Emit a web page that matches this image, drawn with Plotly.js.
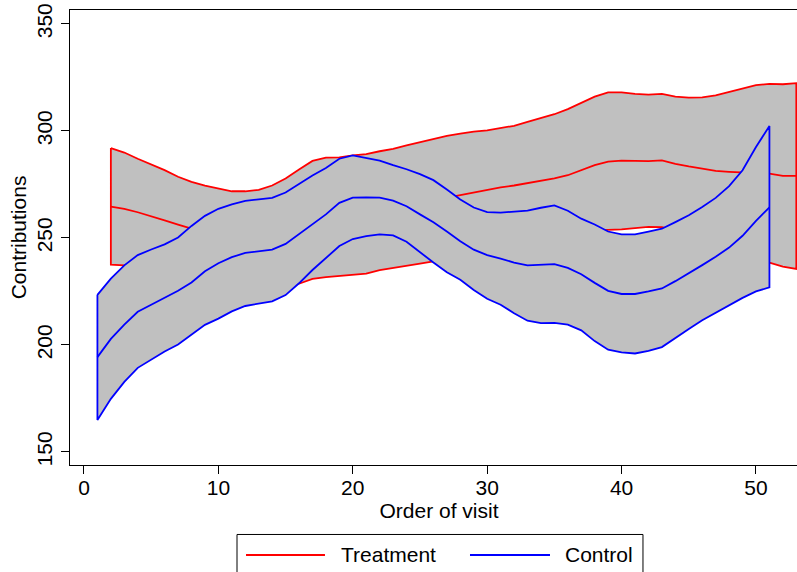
<!DOCTYPE html>
<html>
<head>
<meta charset="utf-8">
<script src="https://cdn.plot.ly/plotly-3.0.1.min.js"></script>
<style>
  html, body { margin: 0; padding: 0; background: #fff; overflow: hidden; }
  #chart { width: 808px; height: 572px; }
</style>
</head>
<body>
<div id="chart"></div>
<script>
// Order of visit
const treatX = [2,3,4,5,6,7,8,9,10,11,12,13,14,15,16,17,18,19,20,21,22,23,24,25,26,27,
  28,29,30,31,32,33,34,35,36,37,38,39,40,41,42,43,44,45,46,47,48,49,50,51,52,53];
const ctrlX = [1,2,3,4,5,6,7,8,9,10,11,12,13,14,15,16,17,18,19,20,21,22,23,24,25,26,
  27,28,29,30,31,32,33,34,35,36,37,38,39,40,41,42,43,44,45,46,47,48,49,50,51];

// Treatment: upper bound, mean, lower bound
const treatUpper = [292.0,289.9,287.0,284.5,281.7,278.6,276.2,274.4,273.0,271.8,271.8,272.5,
  274.5,277.8,282.0,286.0,287.5,287.6,288.6,289.2,290.5,291.6,293.2,294.7,296.2,297.7,
  298.7,299.7,300.3,301.2,302.4,304.2,306.0,307.8,310.2,313.0,316.0,318.0,318.0,317.3,
  317.0,317.3,316.0,315.6,315.7,316.6,318.2,319.9,321.4,322.0,321.8,322.3];
const treatMean = [264.6,263.6,262.0,260.2,258.2,256.2,254.3,253.0,251.8,250.8,250.4,250.5,
  251.3,252.8,255.3,258.5,259.6,259.9,260.7,261.3,262.8,263.8,265.1,266.4,267.6,269.1,
  270.3,271.4,272.6,273.6,274.5,275.6,276.7,277.8,279.3,281.5,284.0,285.7,286.1,286.0,
  285.9,286.2,284.6,283.4,282.2,281.3,280.9,280.6,280.3,280.0,279.0,279.0];
const treatLower = [237.5,237.3,236.8,236.0,234.8,233.6,232.4,231.5,230.6,229.8,229.0,228.4,
  228.0,227.8,228.6,230.9,231.7,232.2,232.8,233.3,235.0,236.0,237.0,238.0,239.0,240.5,
  242.0,243.5,244.7,245.5,246.3,247.0,248.0,249.0,250.5,252.0,253.5,253.8,254.0,254.5,
  255.2,255.0,253.5,251.5,249.0,246.5,244.0,241.5,239.5,238.5,236.6,235.5];

// Control: upper bound, mean, lower bound
const ctrlUpper = [223.4,231.0,237.2,242.0,244.6,247.0,250.2,255.6,260.3,263.6,265.7,267.3,
  268.0,268.7,271.2,275.3,279.2,282.7,287.0,288.6,287.3,286.1,284.0,282.1,279.8,277.0,
  272.6,268.0,264.2,262.1,261.8,262.2,262.8,264.1,265.2,262.7,259.0,256.3,253.0,251.7,
  251.7,253.0,254.3,257.4,260.6,264.4,268.7,274.2,281.6,292.5,302.3];
const ctrlMean = [194.3,202.8,209.5,215.5,218.8,222.0,225.3,229.2,234.4,238.2,241.0,243.0,
  243.6,244.5,247.2,251.8,256.2,261.0,266.4,268.8,268.9,268.8,267.4,264.8,261.0,257.3,
  253.0,248.5,244.5,242.0,240.3,238.5,237.2,237.4,237.8,236.0,233.0,229.0,225.3,223.8,
  223.8,225.0,226.4,229.8,233.4,237.3,241.2,245.5,251.0,258.0,264.3];
const ctrlLower = [164.9,174.8,182.7,189.3,193.0,196.9,200.2,205.0,209.4,212.3,215.7,218.2,
  219.4,220.4,223.3,228.8,235.0,240.7,246.2,249.5,250.8,251.7,251.2,248.2,243.4,238.5,
  234.0,230.5,225.7,221.6,218.8,214.8,211.3,210.2,210.3,209.5,206.8,201.8,197.8,196.5,
  196.0,197.2,199.0,203.2,207.5,211.5,215.0,218.5,222.0,225.0,226.9];

const seriesNames = ['Treatment', 'Control'];
const yTicks = [150, 200, 250, 300, 350];
const xTicks = [0, 10, 20, 30, 40, 50];

function band(xs, up, lo) {
  const bx = xs.concat(xs.slice().reverse(), [xs[0]]);
  const by = up.concat(lo.slice().reverse(), [up[0]]);
  return { bx, by };
}

const tb = band(treatX, treatUpper, treatLower);
const cb = band(ctrlX, ctrlUpper, ctrlLower);
const RED = '#ff0000', BLUE = '#0000ff', GRAY = '#c0c0c0';
const LW = 1.8;

const traces = [
  { x: tb.bx, y: tb.by, type: 'scatter', mode: 'lines', fill: 'toself', fillcolor: GRAY,
    line: { color: RED, width: LW }, showlegend: false, hoverinfo: 'skip' },
  { x: treatX, y: treatMean, type: 'scatter', mode: 'lines', name: seriesNames[0],
    line: { color: RED, width: LW }, showlegend: false },
  { x: cb.bx, y: cb.by, type: 'scatter', mode: 'lines', fill: 'toself', fillcolor: GRAY,
    line: { color: BLUE, width: LW }, showlegend: false, hoverinfo: 'skip' },
  { x: ctrlX, y: ctrlMean, type: 'scatter', mode: 'lines', name: seriesNames[1],
    line: { color: BLUE, width: LW }, showlegend: false }
];

const FONT = 'Liberation Sans, Arial, Helvetica, sans-serif';
const FS = 21;

// Legend box (drawn below the plot, in paper coordinates)
const legendShapes = [
  { type: 'rect', xref: 'paper', yref: 'paper', x0: 0.2263, x1: 0.7764, y0: -0.26, y1: -0.1527,
    line: { color: '#000', width: 1 }, fillcolor: 'rgba(0,0,0,0)' },
  { type: 'line', xref: 'paper', yref: 'paper', x0: 0.2385, x1: 0.3455, y0: -0.1978, y1: -0.1978,
    line: { color: RED, width: LW } },
  { type: 'line', xref: 'paper', yref: 'paper', x0: 0.5420, x1: 0.6504, y0: -0.1978, y1: -0.1978,
    line: { color: BLUE, width: LW } }
];
const legendLabels = [
  { text: seriesNames[0], xref: 'paper', yref: 'paper', x: 0.3645, y: -0.1978,
    xanchor: 'left', yanchor: 'middle', showarrow: false, font: { size: FS, family: FONT, color: '#000' } },
  { text: seriesNames[1], xref: 'paper', yref: 'paper', x: 0.6680, y: -0.1978,
    xanchor: 'left', yanchor: 'middle', showarrow: false, font: { size: FS, family: FONT, color: '#000' } }
];

const layout = {
  width: 808, height: 572,
  margin: { l: 70, r: 0, t: 10, b: 107 },
  paper_bgcolor: '#ffffff', plot_bgcolor: '#ffffff',
  font: { family: FONT, size: FS, color: '#000' },
  showlegend: false,
  xaxis: {
    range: [-1.04, 53.87], tickvals: xTicks, ticktext: xTicks.map(String),
    ticks: 'outside', ticklen: 8, tickwidth: 1, tickcolor: '#000',
    showline: true, linecolor: '#000', linewidth: 1.2, mirror: true,
    showgrid: false, zeroline: false, ticklabelstandoff: -4,
    tickfont: { size: FS, family: FONT },
    title: { text: 'Order of visit', font: { size: FS, family: FONT }, standoff: 0 }
  },
  yaxis: {
    range: [143.9, 356.5], tickvals: yTicks, ticktext: yTicks.map(String),
    ticks: 'outside', ticklen: 8, tickwidth: 1, tickcolor: '#000',
    showline: true, linecolor: '#000', linewidth: 1.2,
    showgrid: false, zeroline: false, tickangle: -90,
    tickfont: { size: FS, family: FONT },
    title: { text: 'Contributions', font: { size: FS, family: FONT }, standoff: 1 }
  },
  shapes: legendShapes,
  annotations: legendLabels
};

Plotly.newPlot('chart', traces, layout, { staticPlot: true, displayModeBar: false });
</script>
</body>
</html>
